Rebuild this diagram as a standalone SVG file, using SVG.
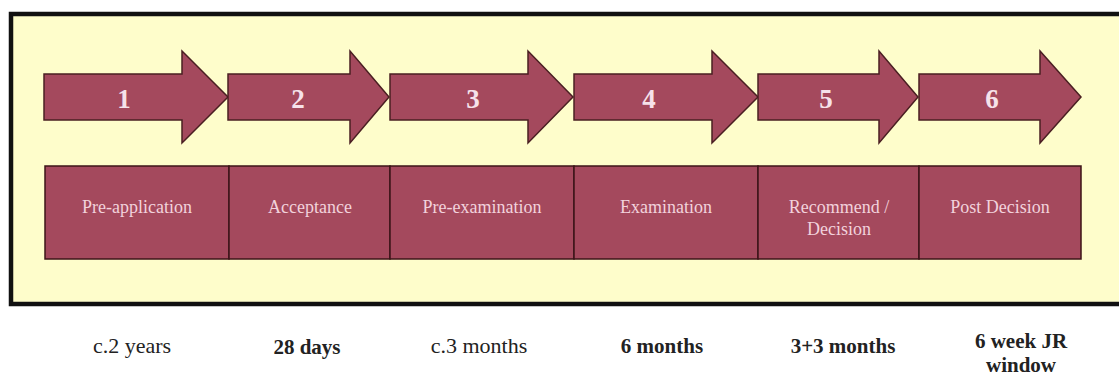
<svg xmlns="http://www.w3.org/2000/svg" width="1119" height="376" viewBox="0 0 1119 376">
<style>
.arrow{fill:#a4495d;stroke:#4a1f22;stroke-width:1.5;stroke-linejoin:miter}
.box{fill:#a4495d;stroke:#3c1418;stroke-width:1.5}
.num{font-family:"Liberation Serif",serif;font-weight:bold;font-size:27px;fill:#f6e2ea;text-anchor:middle}
.lbl{font-family:"Liberation Serif",serif;font-size:18px;fill:#f2d2dc;text-anchor:middle}
.dur{font-family:"Liberation Serif",serif;font-size:22px;fill:#222;text-anchor:middle}
.b{font-weight:bold;font-size:21px}
</style>
<rect width="1119" height="376" fill="#ffffff"/>
<g id="frame">
<rect x="11" y="14" width="1120" height="290" fill="#fefdcb" stroke="#111" stroke-width="4.5"/>
</g>
<g id="arrow1"><path class="arrow" d="M44,74 H182 V51 L228,97 L182,143 V120 H44 Z"/><text class="num" x="124" y="108">1</text></g>
<g id="arrow2"><path class="arrow" d="M228,74 H350 V51 L389,97 L350,143 V120 H228 Z"/><text class="num" x="298" y="108">2</text></g>
<g id="arrow3"><path class="arrow" d="M390,74 H528 V51 L573,97 L528,143 V120 H390 Z"/><text class="num" x="473" y="108">3</text></g>
<g id="arrow4"><path class="arrow" d="M574,74 H712 V51 L758,97 L712,143 V120 H574 Z"/><text class="num" x="649" y="108">4</text></g>
<g id="arrow5"><path class="arrow" d="M758,74 H879 V51 L918,97 L879,143 V120 H758 Z"/><text class="num" x="826" y="108">5</text></g>
<g id="arrow6"><path class="arrow" d="M919,74 H1040 V51 L1081,97 L1040,143 V120 H919 Z"/><text class="num" x="992" y="108">6</text></g>
<g id="box1"><rect class="box" x="45" y="166" width="184" height="93"/><text class="lbl" x="137" y="213">Pre-application</text></g>
<g id="box2"><rect class="box" x="229" y="166" width="161" height="93"/><text class="lbl" x="310" y="213">Acceptance</text></g>
<g id="box3"><rect class="box" x="390" y="166" width="184" height="93"/><text class="lbl" x="482" y="213">Pre-examination</text></g>
<g id="box4"><rect class="box" x="574" y="166" width="184" height="93"/><text class="lbl" x="666" y="213">Examination</text></g>
<g id="box5"><rect class="box" x="758" y="166" width="161" height="93"/><text class="lbl" x="839" y="213">Recommend /</text><text class="lbl" x="839" y="235">Decision</text></g>
<g id="box6"><rect class="box" x="919" y="166" width="162" height="93"/><text class="lbl" x="1000" y="213">Post Decision</text></g>
<g id="durations">
<text class="dur" x="132" y="353">c.2 years</text>
<text class="dur b" x="307" y="354">28 days</text>
<text class="dur" x="479" y="353">c.3 months</text>
<text class="dur b" x="662" y="353">6 months</text>
<text class="dur b" x="843" y="353">3+3 months</text>
<text class="dur b" x="1021" y="348">6 week JR</text>
<text class="dur b" x="1021" y="372">window</text>
</g>
</svg>
